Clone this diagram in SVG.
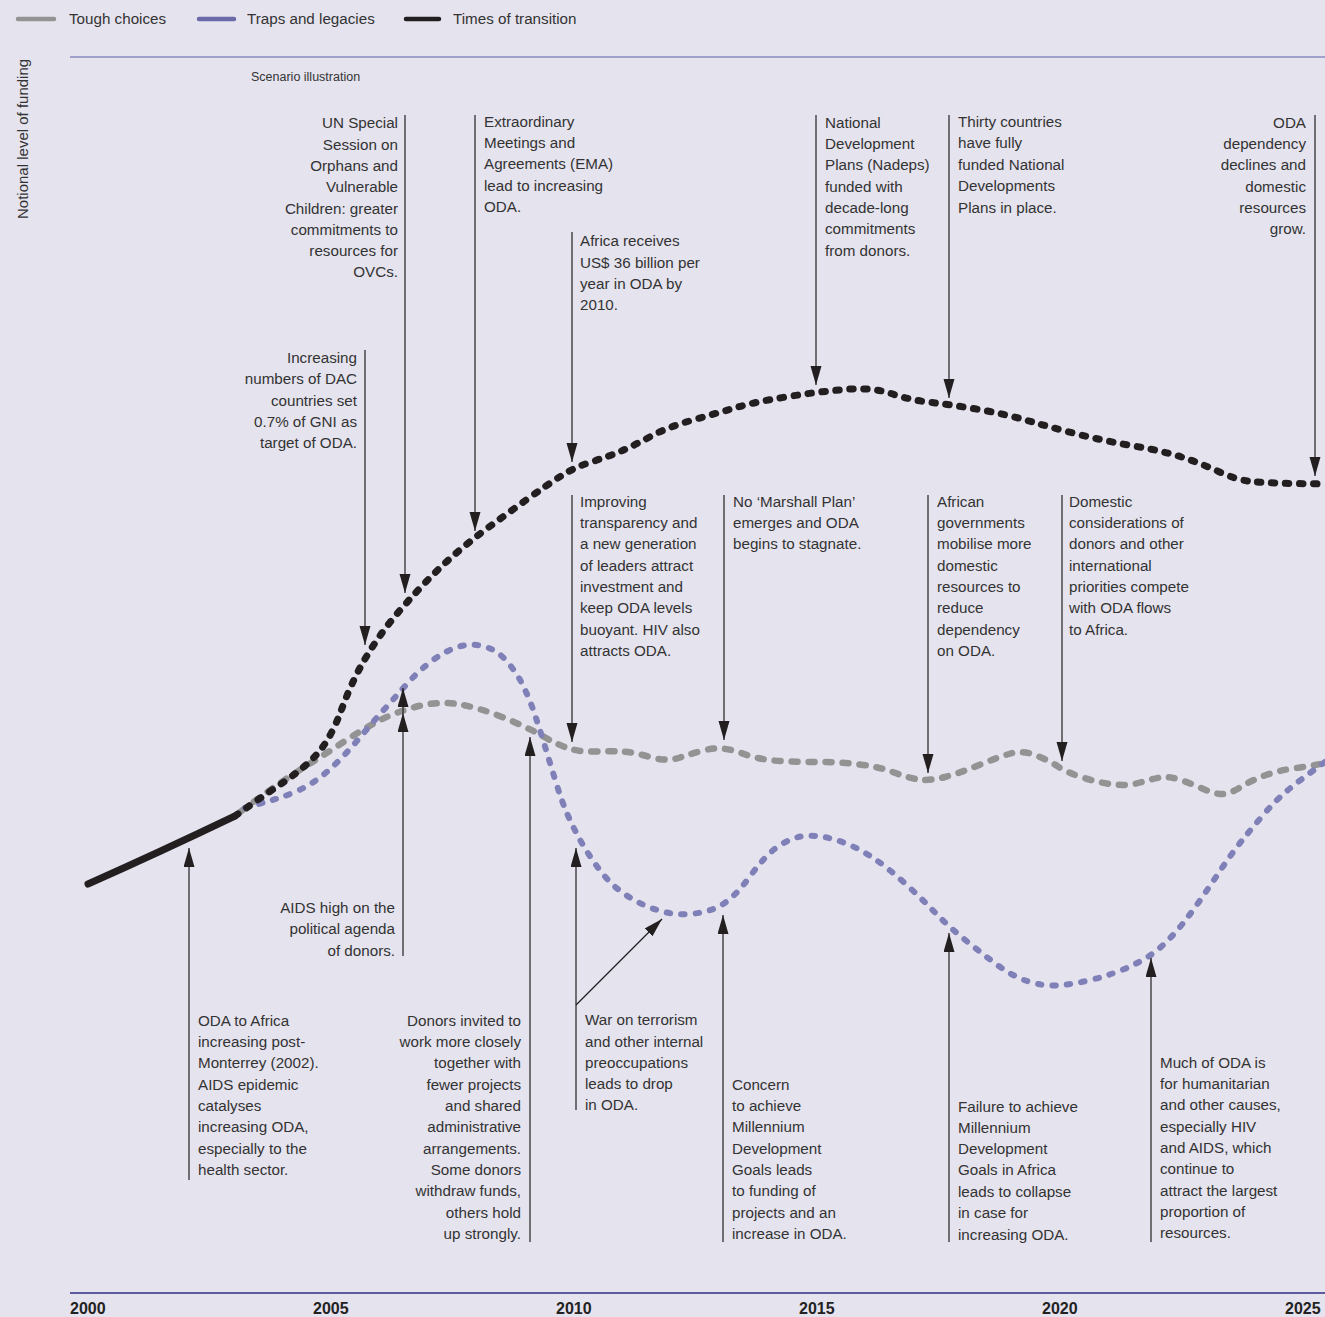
<svg xmlns="http://www.w3.org/2000/svg" width="1325" height="1317" viewBox="0 0 1325 1317">
<style>
.t{font-family:"Liberation Sans",Arial,sans-serif;font-size:15.2px;fill:#333}
.r{text-anchor:end}
.yr{font-family:"Liberation Sans Narrow","Liberation Sans",Arial,sans-serif;font-size:16px;font-weight:bold;fill:#222}
.lg{font-family:"Liberation Sans",Arial,sans-serif;font-size:15.2px;fill:#333}
.c{fill:none;stroke:#231f20;stroke-width:1.2}
.grey{fill:none;stroke:#939393;stroke-width:6.5;stroke-linecap:round;stroke-dasharray:6 11}
.purple{fill:none;stroke:#8080b8;stroke-width:6;stroke-linecap:round;stroke-dasharray:3.5 11}
.black{fill:none;stroke:#231f20;stroke-width:7;stroke-linecap:round;stroke-dasharray:3.5 10.5}
</style>
<defs>
<marker id="ah" markerUnits="userSpaceOnUse" markerWidth="20" markerHeight="12" refX="19" refY="5.5" orient="auto">
<path d="M0,0 L19,5.5 L0,11 z" fill="#231f20"/>
</marker>
</defs>
<rect x="0" y="0" width="1325" height="1317" fill="#e5e3ee"/>

<g id="legend">
<line x1="18" y1="19" x2="54" y2="19" stroke="#939393" stroke-width="4.5" stroke-linecap="round"/>
<text class="lg" x="69" y="24">Tough choices</text>
<line x1="199" y1="19" x2="234" y2="19" stroke="#6a6aa8" stroke-width="4.5" stroke-linecap="round"/>
<text class="lg" x="247" y="24">Traps and legacies</text>
<line x1="406" y1="19" x2="439" y2="19" stroke="#231f20" stroke-width="4.5" stroke-linecap="round"/>
<text class="lg" x="453" y="24">Times of transition</text>
</g>

<g id="axes">
<line x1="70" y1="57" x2="1325" y2="57" stroke="#8a8abb" stroke-width="1.6"/>
<line x1="70" y1="1293" x2="1325" y2="1293" stroke="#5c5c9c" stroke-width="2"/>
<text transform="translate(28,219) rotate(-90)" font-family="Liberation Sans, Arial, sans-serif" font-size="15" fill="#333">Notional level of funding</text>
<text x="251" y="81" font-family="Liberation Sans, Arial, sans-serif" font-size="12.5" fill="#333">Scenario illustration</text>
<text class="yr" x="70" y="1314">2000</text>
<text class="yr" x="313" y="1314">2005</text>
<text class="yr" x="556" y="1314">2010</text>
<text class="yr" x="799" y="1314">2015</text>
<text class="yr" x="1042" y="1314">2020</text>
<text class="yr" x="1285" y="1314">2025</text>
</g>

<g id="series">
<path class="grey" d="M240,812 Q260,797 276.5,785.5 Q293,774 310,763.5 Q327,753 343.5,742 Q360,731 376.5,722 Q393,713 415,707 Q437,701 457,704 Q477,707 502,717 Q527,727 542.5,736 Q558,745 569,748.5 Q580,752 595,751.5 Q610,751 621.5,751.5 Q633,752 650,757 Q667,762 680,757.5 Q693,753 707.5,749.5 Q722,746 741,753 Q760,760 780,761 Q800,762 820,762 Q840,762 860,764.5 Q880,767 894,772.5 Q908,778 919,779.5 Q930,781 945,777 Q960,773 978,765.5 Q996,758 1009,754 Q1022,750 1035,755 Q1048,760 1058,766.5 Q1068,773 1084,778 Q1100,783 1114,784.5 Q1128,786 1140,782.5 Q1152,779 1160,777.5 Q1168,776 1179,779.5 Q1190,783 1201,788 Q1212,793 1220,794 Q1228,795 1240,787.5 Q1252,780 1266,775 Q1280,770 1296,768 Q1312,766 1325,763"/>
<path class="purple" d="M245,808 Q262,803 272.5,800 Q283,797 295,792 Q307,787 318.5,778.5 Q330,770 341,758.5 Q352,747 362,735 Q372,723 381,713 Q390,703 397.5,694.5 Q405,686 413.5,677 Q422,668 434.5,659 Q447,650 459.5,646.5 Q472,643 484.5,646.5 Q497,650 507,661.5 Q517,673 523.5,686.5 Q530,700 535,715 Q540,730 545,746.5 Q550,763 556,782.5 Q562,802 567.5,814.5 Q573,827 578.5,837 Q584,847 590.5,857 Q597,867 605,876.5 Q613,886 623,893 Q633,900 644,905 Q655,910 666.5,912.5 Q678,915 690,914 Q702,913 712,909.5 Q722,906 731,898 Q740,890 748,879 Q756,868 764,859 Q772,850 782,844 Q792,838 801,836.5 Q810,835 821,836.5 Q832,838 846,843.5 Q860,849 874,858.5 Q888,868 904,882.5 Q920,897 934,911.5 Q948,926 964,939 Q980,952 996,964 Q1012,976 1027,981 Q1042,986 1055,985.5 Q1068,985 1084,981.5 Q1100,978 1114,973 Q1128,968 1140,961.5 Q1152,955 1162,946 Q1172,937 1182,924.5 Q1192,912 1202,897.5 Q1212,883 1222,868 Q1232,853 1242,840.5 Q1252,828 1264,814 Q1276,800 1288,790 Q1300,780 1325,762"/>
<path d="M88,884 Q160,852 235,816" fill="none" stroke="#231f20" stroke-width="7" stroke-linecap="round"/>
<path class="black" d="M235,816 Q263,796 276.5,787 Q290,778 300,770 Q310,762 317.5,753.5 Q325,745 331,733.5 Q337,722 341,711 Q345,700 350,688.5 Q355,677 361,666 Q367,655 376,641.5 Q385,628 396,615 Q407,602 422,586 Q437,570 453.5,555.5 Q470,541 489,527 Q508,513 527.5,499 Q547,485 561,476 Q575,467 592.5,461.5 Q610,456 622.5,450.5 Q635,445 651.5,436 Q668,427 694.5,419.5 Q721,412 738,407 Q755,402 785.5,397 Q816,392 844,389.5 Q872,387 891,393.5 Q910,400 931.5,402.5 Q953,405 979,409.5 Q1005,414 1029,421 Q1053,428 1079,434.5 Q1105,441 1134,446 Q1163,451 1181.5,457 Q1200,463 1218.5,471.5 Q1237,480 1251,481.5 Q1265,483 1295,483.5 L1325,484"/>
</g>

<g id="connectors">
<line class="c" x1="405" y1="115" x2="405" y2="593" marker-end="url(#ah)"/>
<line class="c" x1="365" y1="350" x2="365" y2="645" marker-end="url(#ah)"/>
<line class="c" x1="475" y1="115" x2="475" y2="531" marker-end="url(#ah)"/>
<line class="c" x1="572" y1="232" x2="572" y2="462" marker-end="url(#ah)"/>
<line class="c" x1="816" y1="115" x2="816" y2="385" marker-end="url(#ah)"/>
<line class="c" x1="949" y1="115" x2="949" y2="398" marker-end="url(#ah)"/>
<line class="c" x1="1315" y1="115" x2="1315" y2="476" marker-end="url(#ah)"/>
<line class="c" x1="572" y1="495" x2="572" y2="742" marker-end="url(#ah)"/>
<line class="c" x1="724" y1="495" x2="724" y2="740" marker-end="url(#ah)"/>
<line class="c" x1="928" y1="495" x2="928" y2="773" marker-end="url(#ah)"/>
<line class="c" x1="1062" y1="495" x2="1062" y2="761" marker-end="url(#ah)"/>
<line class="c" x1="189" y1="1180" x2="189" y2="848" marker-end="url(#ah)"/>
<path class="c" d="M403,956 L403,713 L403,688" marker-mid="url(#ah)" marker-end="url(#ah)"/>
<line class="c" x1="530" y1="1242" x2="530" y2="737" marker-end="url(#ah)"/>
<line class="c" x1="576" y1="1110" x2="576" y2="848" marker-end="url(#ah)"/>
<line class="c" x1="576" y1="1005" x2="662" y2="919" marker-end="url(#ah)"/>
<line class="c" x1="723" y1="1242" x2="723" y2="915" marker-end="url(#ah)"/>
<line class="c" x1="949" y1="1242" x2="949" y2="933" marker-end="url(#ah)"/>
<line class="c" x1="1151" y1="1242" x2="1151" y2="958" marker-end="url(#ah)"/>
</g>

<g id="un-special">
<text class="t r"><tspan x="398" y="128">UN Special</tspan><tspan x="398" y="149.5">Session on</tspan><tspan x="398" y="171">Orphans and</tspan><tspan x="398" y="192">Vulnerable</tspan><tspan x="398" y="213.5">Children: greater</tspan><tspan x="398" y="235">commitments to</tspan><tspan x="398" y="256">resources for</tspan><tspan x="398" y="277">OVCs.</tspan></text>
</g>
<g id="dac">
<text class="t r"><tspan x="357" y="363">Increasing</tspan><tspan x="357" y="384">numbers of DAC</tspan><tspan x="357" y="406">countries set</tspan><tspan x="357" y="427">0.7% of GNI as</tspan><tspan x="357" y="448">target of ODA.</tspan></text>
</g>
<g id="ema">
<text class="t"><tspan x="484" y="127">Extraordinary</tspan><tspan x="484" y="148">Meetings and</tspan><tspan x="484" y="169">Agreements (EMA)</tspan><tspan x="484" y="191">lead to increasing</tspan><tspan x="484" y="212">ODA.</tspan></text>
</g>
<g id="africa-36bn">
<text class="t"><tspan x="580" y="246">Africa receives</tspan><tspan x="580" y="268">US$ 36 billion per</tspan><tspan x="580" y="289">year in ODA by</tspan><tspan x="580" y="310">2010.</tspan></text>
</g>
<g id="nadeps">
<text class="t"><tspan x="825" y="128">National</tspan><tspan x="825" y="149">Development</tspan><tspan x="825" y="170">Plans (Nadeps)</tspan><tspan x="825" y="192">funded with</tspan><tspan x="825" y="213">decade-long</tspan><tspan x="825" y="234">commitments</tspan><tspan x="825" y="256">from donors.</tspan></text>
</g>
<g id="thirty">
<text class="t"><tspan x="958" y="127">Thirty countries</tspan><tspan x="958" y="148">have fully</tspan><tspan x="958" y="170">funded National</tspan><tspan x="958" y="191">Developments</tspan><tspan x="958" y="213">Plans in place.</tspan></text>
</g>
<g id="oda-declines">
<text class="t r"><tspan x="1306" y="128">ODA</tspan><tspan x="1306" y="149">dependency</tspan><tspan x="1306" y="170">declines and</tspan><tspan x="1306" y="192">domestic</tspan><tspan x="1306" y="213">resources</tspan><tspan x="1306" y="234">grow.</tspan></text>
</g>
<g id="improving">
<text class="t"><tspan x="580" y="507">Improving</tspan><tspan x="580" y="528">transparency and</tspan><tspan x="580" y="549">a new generation</tspan><tspan x="580" y="571">of leaders attract</tspan><tspan x="580" y="592">investment and</tspan><tspan x="580" y="613">keep ODA levels</tspan><tspan x="580" y="635">buoyant. HIV also</tspan><tspan x="580" y="656">attracts ODA.</tspan></text>
</g>
<g id="marshall">
<text class="t"><tspan x="733" y="507">No ‘Marshall Plan’</tspan><tspan x="733" y="528">emerges and ODA</tspan><tspan x="733" y="549">begins to stagnate.</tspan></text>
</g>
<g id="african-gov">
<text class="t"><tspan x="937" y="507">African</tspan><tspan x="937" y="528">governments</tspan><tspan x="937" y="549">mobilise more</tspan><tspan x="937" y="571">domestic</tspan><tspan x="937" y="592">resources to</tspan><tspan x="937" y="613">reduce</tspan><tspan x="937" y="635">dependency</tspan><tspan x="937" y="656">on ODA.</tspan></text>
</g>
<g id="domestic">
<text class="t"><tspan x="1069" y="507">Domestic</tspan><tspan x="1069" y="528">considerations of</tspan><tspan x="1069" y="549">donors and other</tspan><tspan x="1069" y="571">international</tspan><tspan x="1069" y="592">priorities compete</tspan><tspan x="1069" y="613">with ODA flows</tspan><tspan x="1069" y="635">to Africa.</tspan></text>
</g>
<g id="monterrey">
<text class="t"><tspan x="198" y="1026">ODA to Africa</tspan><tspan x="198" y="1047">increasing post-</tspan><tspan x="198" y="1068">Monterrey (2002).</tspan><tspan x="198" y="1090">AIDS epidemic</tspan><tspan x="198" y="1111">catalyses</tspan><tspan x="198" y="1132">increasing ODA,</tspan><tspan x="198" y="1154">especially to the</tspan><tspan x="198" y="1175">health sector.</tspan></text>
</g>
<g id="aids-high">
<text class="t r"><tspan x="395" y="913">AIDS high on the</tspan><tspan x="395" y="934">political agenda</tspan><tspan x="395" y="956">of donors.</tspan></text>
</g>
<g id="donors-invited">
<text class="t r"><tspan x="521" y="1026">Donors invited to</tspan><tspan x="521" y="1047">work more closely</tspan><tspan x="521" y="1068">together with</tspan><tspan x="521" y="1090">fewer projects</tspan><tspan x="521" y="1111">and shared</tspan><tspan x="521" y="1132">administrative</tspan><tspan x="521" y="1154">arrangements.</tspan><tspan x="521" y="1175">Some donors</tspan><tspan x="521" y="1196">withdraw funds,</tspan><tspan x="521" y="1218">others hold</tspan><tspan x="521" y="1239">up strongly.</tspan></text>
</g>
<g id="war-on-terrorism">
<text class="t"><tspan x="585" y="1025">War on terrorism</tspan><tspan x="585" y="1047">and other internal</tspan><tspan x="585" y="1068">preoccupations</tspan><tspan x="585" y="1089">leads to drop</tspan><tspan x="585" y="1110">in ODA.</tspan></text>
</g>
<g id="concern-mdg">
<text class="t"><tspan x="732" y="1090">Concern</tspan><tspan x="732" y="1111">to achieve</tspan><tspan x="732" y="1132">Millennium</tspan><tspan x="732" y="1154">Development</tspan><tspan x="732" y="1175">Goals leads</tspan><tspan x="732" y="1196">to funding of</tspan><tspan x="732" y="1218">projects and an</tspan><tspan x="732" y="1239">increase in ODA.</tspan></text>
</g>
<g id="failure-mdg">
<text class="t"><tspan x="958" y="1112">Failure to achieve</tspan><tspan x="958" y="1133">Millennium</tspan><tspan x="958" y="1154">Development</tspan><tspan x="958" y="1175">Goals in Africa</tspan><tspan x="958" y="1197">leads to collapse</tspan><tspan x="958" y="1218">in case for</tspan><tspan x="958" y="1240">increasing ODA.</tspan></text>
</g>
<g id="humanitarian">
<text class="t"><tspan x="1160" y="1068">Much of ODA is</tspan><tspan x="1160" y="1089">for humanitarian</tspan><tspan x="1160" y="1110">and other causes,</tspan><tspan x="1160" y="1132">especially HIV</tspan><tspan x="1160" y="1153">and AIDS, which</tspan><tspan x="1160" y="1174">continue to</tspan><tspan x="1160" y="1196">attract the largest</tspan><tspan x="1160" y="1217">proportion of</tspan><tspan x="1160" y="1238">resources.</tspan></text>
</g>
</svg>
